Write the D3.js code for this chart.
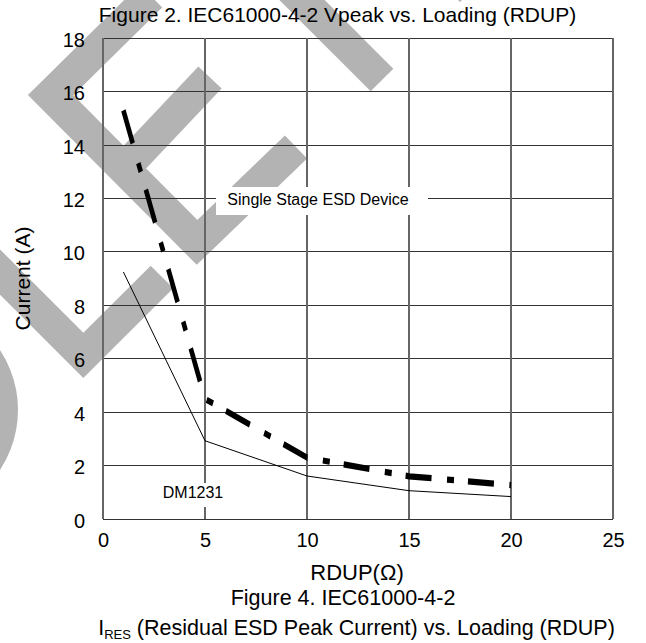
<!DOCTYPE html>
<html><head><meta charset="utf-8">
<script src="https://cdn.jsdelivr.net/npm/d3@7"></script>
<style>
html,body{margin:0;padding:0;background:#fff;}
svg{display:block;font-family:"Liberation Sans",Arial,sans-serif;}
</style>
</head><body>
<svg id="chart" width="646" height="643"></svg>
<script>
// ---- data ----
const rdup = [1, 5, 10, 15, 20];
const singleStage = [15.3, 4.5, 2.3, 1.6, 1.27];
const dm1231 = [9.25, 2.93, 1.61, 1.06, 0.84];
const seriesNames = ["Single Stage ESD Device", "DM1231"];
const xTickValues = [0, 5, 10, 15, 20, 25];
const yTickValues = [0, 2, 4, 6, 8, 10, 12, 14, 16, 18];
const titleTop = "Figure 2. IEC61000-4-2 Vpeak vs. Loading (RDUP)";
const xTitle = "RDUP(\u03A9)";
const yTitle = "Current (A)";
const captionLine1 = "Figure 4. IEC61000-4-2";
const captionSubMain = "I";
const captionSub = "RES";
const captionRest = " (Residual ESD Peak Current) vs. Loading (RDUP)";

// ---- watermark (decorative background strokes, pixel space) ----
const watermarkStrokes = [
  [[151,-4],[50.6,95],[197,242.4],[296,147]],
  [[123.8,168.7],[210,77.5]],
  [[-100,172],[83.3,355.4],[162,277]],
  [[250,-52],[382,80]],
  [[360,-120],[460,-20.6],[560,-120]]
];
const watermarkRing = {cx:-91, cy:410, r:93};

const svg = d3.select("#chart");
const W = 646, H = 643;
const x = d3.scaleLinear().domain([0, 25]).range([103, 613]);
const y = d3.scaleLinear().domain([0, 18]).range([519, 38.3]);

// watermark layer
const wm = svg.append("g").attr("fill", "none").attr("stroke", "#b3b3b3").attr("stroke-width", 32)
  .attr("stroke-linejoin", "miter").attr("stroke-linecap", "butt");
wm.selectAll("path.wm").data(watermarkStrokes).join("path").attr("class","wm")
  .attr("d", d => d3.line()(d));
wm.append("circle").attr("cx", watermarkRing.cx).attr("cy", watermarkRing.cy).attr("r", watermarkRing.r);

// grid
const grid = svg.append("g").attr("shape-rendering", "crispEdges");
grid.selectAll("line.h").data(yTickValues).join("line").attr("class","h")
  .attr("x1", x(0)).attr("x2", x(25)).attr("y1", d => y(d)).attr("y2", d => y(d))
  .attr("stroke", "#333").attr("stroke-width", 1);
grid.selectAll("line.v").data(xTickValues).join("line").attr("class","v")
  .attr("y1", y(0)).attr("y2", y(18)).attr("x1", d => x(d)).attr("x2", d => x(d))
  .attr("stroke", "#666").attr("stroke-width", 1.3);

// axes labels
const yAxis = svg.append("g").attr("transform", `translate(${x(0)},0)`)
  .call(d3.axisLeft(y).tickValues(yTickValues).tickSize(0).tickPadding(18).tickFormat(d3.format("d")));
yAxis.select(".domain").remove();
yAxis.selectAll("text").attr("font-size", 20).attr("font-family", "Liberation Sans, Arial, sans-serif").attr("fill", "#000").attr("dy", "0.4em");

const xAxis = svg.append("g").attr("transform", `translate(0,${y(0)})`)
  .call(d3.axisBottom(x).tickValues(xTickValues).tickSize(0).tickPadding(14).tickFormat(d3.format("d")));
xAxis.select(".domain").remove();
xAxis.selectAll("text").attr("font-size", 20).attr("font-family", "Liberation Sans, Arial, sans-serif").attr("fill", "#000");

// series labels with white boxes
const lab1 = svg.append("g");
lab1.append("rect").attr("x", 216).attr("y", 187).attr("width", 212).attr("height", 28).attr("fill", "#fff");
lab1.append("text").attr("x", 318).attr("y", 205).attr("text-anchor", "middle").attr("font-size", 16).text(seriesNames[0]);
const lab2 = svg.append("g");
lab2.append("rect").attr("x", 152).attr("y", 483).attr("width", 84).attr("height", 24).attr("fill", "#fff");
lab2.append("text").attr("x", 193).attr("y", 498).attr("text-anchor", "middle").attr("font-size", 16).text(seriesNames[1]);

// data lines
const s = 1.36;
const yS = d3.scaleLinear().domain([0, 18]).range([519 / s, 38.3 / s]);
const pts1 = rdup.map((r, i) => [r, singleStage[i]]);
const pts2 = rdup.map((r, i) => [r, dm1231[i]]);
svg.append("g").attr("transform", `scale(1,${s})`)
  .append("path").datum(pts1)
  .attr("d", d3.line().x(d => x(d[0])).y(d => yS(d[1])))
  .attr("fill", "none").attr("stroke", "#000").attr("stroke-width", 4.6)
  .attr("stroke-dasharray", "26,15.5,7,14").attr("stroke-linecap", "butt").attr("stroke-linejoin", "miter");
svg.append("path").datum(pts2)
  .attr("d", d3.line().x(d => x(d[0])).y(d => y(d[1])))
  .attr("fill", "none").attr("stroke", "#000").attr("stroke-width", 1);

// titles
svg.append("text").attr("x", 337.5).attr("y", 22).attr("text-anchor", "middle").attr("font-size", 21).text(titleTop);
svg.append("text").attr("transform", "translate(30,278.5) rotate(-90)").attr("text-anchor", "middle").attr("font-size", 21).text(yTitle);
svg.append("text").attr("x", 357).attr("y", 580).attr("text-anchor", "middle").attr("font-size", 22).text(xTitle);
svg.append("text").attr("x", 343).attr("y", 605).attr("text-anchor", "middle").attr("font-size", 21.5).text(captionLine1);
const cap = svg.append("text").attr("x", 356.5).attr("y", 635).attr("text-anchor", "middle").attr("font-size", 21.5);
cap.append("tspan").text(captionSubMain);
cap.append("tspan").attr("font-size", 13).attr("dy", 4).text(captionSub);
cap.append("tspan").attr("dy", -4).text(captionRest);
</script>
</body></html>
